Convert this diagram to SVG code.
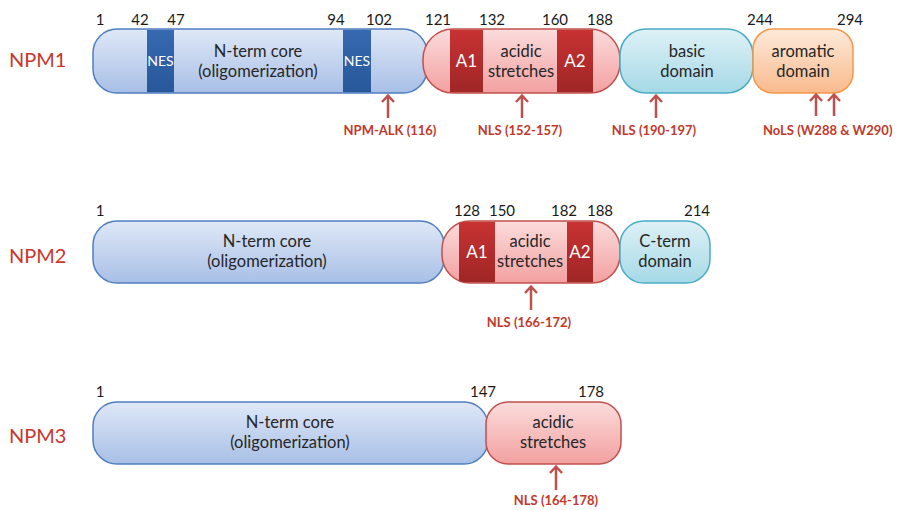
<svg xmlns="http://www.w3.org/2000/svg" width="897" height="510" viewBox="0 0 897 510">
<defs>
<linearGradient id="gBlue" x1="0" y1="0" x2="0" y2="1"><stop offset="0" stop-color="#dfe8f7"/><stop offset="1" stop-color="#a8bfe6"/></linearGradient>
<linearGradient id="gNes" x1="0" y1="0" x2="0" y2="1"><stop offset="0" stop-color="#3669b0"/><stop offset="1" stop-color="#27589a"/></linearGradient>
<linearGradient id="gRed" x1="0" y1="0" x2="0" y2="1"><stop offset="0" stop-color="#fbdcdc"/><stop offset="1" stop-color="#f3a0a0"/></linearGradient>
<linearGradient id="gA" x1="0" y1="0" x2="0" y2="1"><stop offset="0" stop-color="#c83232"/><stop offset="1" stop-color="#a02626"/></linearGradient>
<linearGradient id="gCyan" x1="0" y1="0" x2="0" y2="1"><stop offset="0" stop-color="#def1f6"/><stop offset="1" stop-color="#a6d9e7"/></linearGradient>
<linearGradient id="gOrange" x1="0" y1="0" x2="0" y2="1"><stop offset="0" stop-color="#fdeadb"/><stop offset="1" stop-color="#f9ba8c"/></linearGradient>
<clipPath id="c1"><rect x="423" y="29" width="197" height="64" rx="30"/></clipPath>
<clipPath id="c2"><rect x="442" y="221" width="178" height="62" rx="28"/></clipPath>
</defs>
<style>
.blue{fill:url(#gBlue);stroke:#4f7fc0;stroke-width:1.5}
.red{fill:url(#gRed);stroke:#c0504d;stroke-width:1.5}
.cyan{fill:url(#gCyan);stroke:#4bacc6;stroke-width:1.5}
.orange{fill:url(#gOrange);stroke:#f79646;stroke-width:1.5}
.nes{fill:url(#gNes)}
.acid{fill:url(#gA)}
text{font-family:Lato,"Open Sans","Liberation Sans",sans-serif}
.t{font-size:16.5px;fill:#262626;text-anchor:middle}
.w{font-size:14px;fill:#ffffff;text-anchor:middle}
.wa{font-size:17px;fill:#ffffff;text-anchor:middle}
.n{font-size:15px;fill:#1a1a1a;text-anchor:middle}
.name{font-size:20px;fill:#c8372d}
.lab{font-size:13px;font-weight:bold;fill:#c0392b;text-anchor:middle}
.arr{fill:none;stroke:#c0504d;stroke-width:2.5;stroke-linecap:butt}
</style>

<g id="npm1">
<text class="name" x="9" y="67">NPM1</text>
<g id="npm1-core">
<rect class="blue" x="93" y="29" width="334" height="64" rx="24"/>
<rect class="nes" x="147" y="29.8" width="27" height="62.4"/>
<rect class="nes" x="343" y="29.8" width="28" height="62.4"/>
<text class="w" x="160.5" y="66">NES</text>
<text class="w" x="357" y="66">NES</text>
<text class="t" x="258" y="57">N-term core</text>
<text class="t" x="258" y="77">(oligomerization)</text>
</g>
<g id="npm1-acidic">
<rect class="red" x="423" y="29" width="197" height="64" rx="30"/>
<g clip-path="url(#c1)">
<rect class="acid" x="450" y="29.8" width="33" height="62.4"/>
<rect class="acid" x="557" y="29.8" width="36" height="62.4"/>
</g>
<text class="wa" x="466.5" y="67">A1</text>
<text class="wa" x="575" y="67">A2</text>
<text class="t" x="521" y="57">acidic</text>
<text class="t" x="521" y="77">stretches</text>
</g>
<g id="npm1-basic">
<rect class="cyan" x="620" y="29" width="133" height="64" rx="26"/>
<text class="t" x="687" y="57">basic</text>
<text class="t" x="687" y="77">domain</text>
</g>
<g id="npm1-aromatic">
<rect class="orange" x="753" y="29" width="100" height="64" rx="20"/>
<text class="t" x="803" y="57">aromatic</text>
<text class="t" x="803" y="77">domain</text>
</g>
<g id="npm1-numbers">
<text class="n" x="100" y="25">1</text>
<text class="n" x="140" y="25">42</text>
<text class="n" x="176" y="25">47</text>
<text class="n" x="336" y="25">94</text>
<text class="n" x="379" y="25">102</text>
<text class="n" x="438" y="25">121</text>
<text class="n" x="492" y="25">132</text>
<text class="n" x="555" y="25">160</text>
<text class="n" x="600" y="25">188</text>
<text class="n" x="760" y="25">244</text>
<text class="n" x="850" y="25">294</text>
</g>
<text class="lab" x="390" y="135">NPM-ALK (116)</text>
<text class="lab" x="520" y="135">NLS (152-157)</text>
<text class="lab" x="654" y="135">NLS (190-197)</text>
<text class="lab" x="763" y="135" style="text-anchor:start">NoLS (W288 &amp; W290)</text>
</g>

<g id="npm2">
<text class="name" x="9" y="263">NPM2</text>
<g id="npm2-core">
<rect class="blue" x="93" y="221" width="351" height="62" rx="24"/>
<text class="t" x="267" y="247">N-term core</text>
<text class="t" x="267" y="267">(oligomerization)</text>
</g>
<g id="npm2-acidic">
<rect class="red" x="442" y="221" width="178" height="62" rx="28"/>
<g clip-path="url(#c2)">
<rect class="acid" x="459" y="221.8" width="36" height="60.4"/>
<rect class="acid" x="567" y="221.8" width="26" height="60.4"/>
</g>
<text class="wa" x="477" y="258">A1</text>
<text class="wa" x="580" y="258">A2</text>
<text class="t" x="530" y="247">acidic</text>
<text class="t" x="530" y="267">stretches</text>
</g>
<g id="npm2-cterm">
<rect class="cyan" x="620" y="221" width="90" height="62" rx="24"/>
<text class="t" x="665" y="247">C-term</text>
<text class="t" x="665" y="267">domain</text>
</g>
<text class="n" x="100" y="216">1</text>
<text class="n" x="467" y="216">128</text>
<text class="n" x="502" y="216">150</text>
<text class="n" x="564" y="216">182</text>
<text class="n" x="600" y="216">188</text>
<text class="n" x="697" y="216">214</text>
<text class="lab" x="529" y="327">NLS (166-172)</text>
</g>

<g id="npm3">
<text class="name" x="9" y="443">NPM3</text>
<g id="npm3-core">
<rect class="blue" x="93" y="402" width="395" height="62" rx="24"/>
<text class="t" x="290" y="428">N-term core</text>
<text class="t" x="290" y="448">(oligomerization)</text>
</g>
<g id="npm3-acidic">
<rect class="red" x="486" y="402" width="135" height="62" rx="22"/>
<text class="t" x="553" y="428">acidic</text>
<text class="t" x="553" y="448">stretches</text>
</g>
<text class="n" x="100" y="397">1</text>
<text class="n" x="483" y="397">147</text>
<text class="n" x="591" y="397">178</text>
<text class="lab" x="556" y="505">NLS (164-178)</text>
</g>

<g id="connectors">
<path class="arr" d="M388 118V96M382 102L388 95.5L394 102"/>
<path class="arr" d="M522 118V96M516 102L522 95.5L528 102"/>
<path class="arr" d="M656 118V96M650 102L656 95.5L662 102"/>
<path class="arr" d="M816 116V95M810 101L816 94.5L822 101"/>
<path class="arr" d="M834 116V95M828 101L834 94.5L840 101"/>
<path class="arr" d="M531 310V287M525 293L531 286.5L537 293"/>
<path class="arr" d="M556 490V467M550 473L556 466.5L562 473"/>
</g>
</svg>
